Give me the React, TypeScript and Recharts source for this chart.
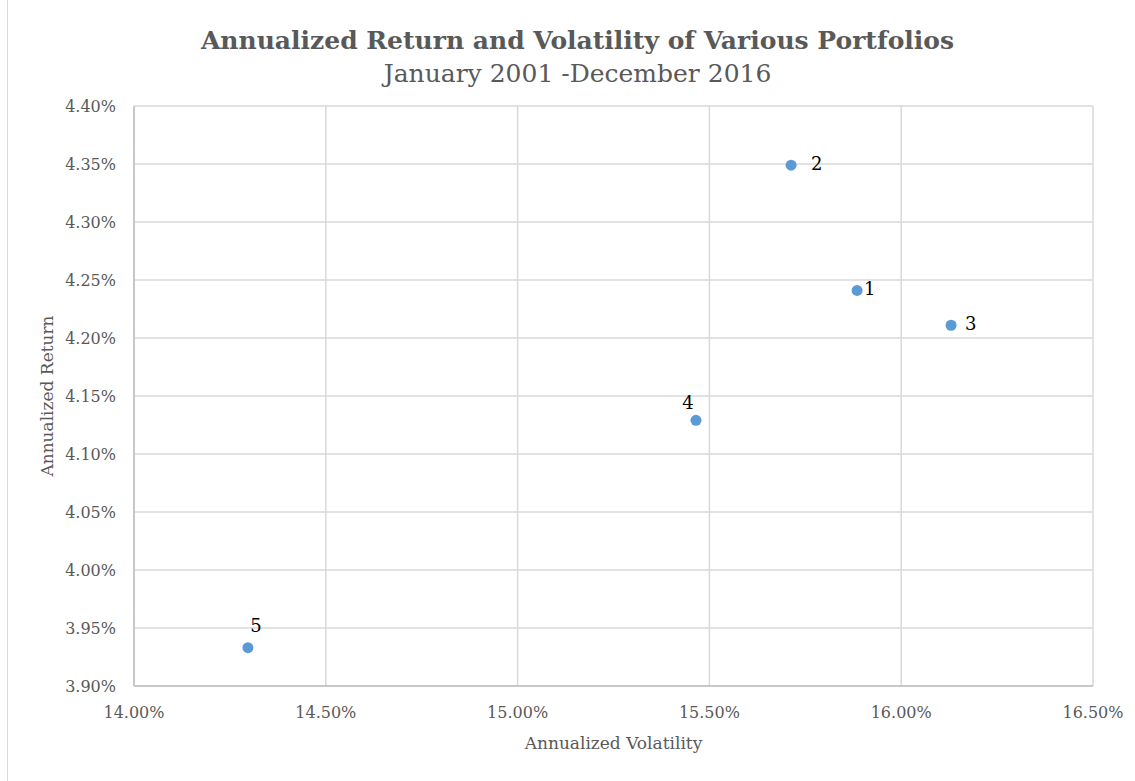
import React from 'react';
import { ScatterChart, Scatter, XAxis, YAxis, CartesianGrid, LabelList, Label } from 'recharts';

// Portfolio stats, Jan 2001 - Dec 2016
const portfolios = ['1', '2', '3', '4', '5'];
const volatility = [15.885, 15.713, 16.13, 15.465, 14.297];
const annReturn = [4.241, 4.349, 4.211, 4.129, 3.933];
const xTicks = [14.0, 14.5, 15.0, 15.5, 16.0, 16.5];
const yTicks = [3.9, 3.95, 4.0, 4.05, 4.1, 4.15, 4.2, 4.25, 4.3, 4.35, 4.4];

// where each label sits relative to its dot
const labelSide = ['right', 'right', 'right', 'topLeft', 'top'];

const FONT = '"DejaVu Serif", serif';
const GREY = '#595959';

const data = portfolios.map((name, i) => ({
  name,
  vol: volatility[i],
  ret: annReturn[i],
}));

const PointLabel = (props: any) => {
  const { x, y, width, height, index } = props;
  const cx = x + width / 2;
  const cy = y + height / 2;
  const side = labelSide[index];
  let lx = cx;
  let ly = cy;
  let anchor: 'start' | 'middle' | 'end' = 'start';
  if (side === 'right') {
    lx = cx + (index === 1 ? 20 : index === 0 ? 7 : 14);
    ly = cy - 2;
  } else if (side === 'topLeft') {
    lx = cx - 8;
    ly = cy - 18;
    anchor = 'middle';
  } else {
    lx = cx + 8;
    ly = cy - 22;
    anchor = 'middle';
  }
  return (
    <text x={lx} y={ly} textAnchor={anchor} dominantBaseline="central" fill="#000" fontSize={18} fontFamily={FONT}>
      {portfolios[index]}
    </text>
  );
};

export default function App() {
  return (
    <div style={{ position: 'absolute', left: 0, top: 0, width: 1135, height: 781, background: '#fff' }}>
      <div style={{ position: 'absolute', left: 7, top: 0, width: 1, height: 781, background: '#d9d9d9' }} />
      <div style={{ position: 'absolute', left: 0, top: 24, width: 1155, textAlign: 'center', fontFamily: FONT, color: GREY }}>
        <div style={{ fontSize: 25, fontWeight: 'bold', lineHeight: '34px' }}>Annualized Return and Volatility of Various Portfolios</div>
        <div style={{ fontSize: 25, lineHeight: '32px', color: '#595959' }}>January 2001 -December 2016</div>
      </div>
      <ScatterChart
        width={1135}
        height={781}
        margin={{ top: 106, right: 42, bottom: 35, left: 44 }}
        style={{ position: 'absolute', left: 0, top: 0 }}
      >
        <CartesianGrid stroke="#d9d9d9" strokeWidth={1.5} />
        <XAxis
          type="number"
          dataKey="vol"
          domain={[14, 16.5]}
          ticks={xTicks}
          tickFormatter={(v: number) => `${v.toFixed(2)}%`}
          tickLine={false}
          axisLine={{ stroke: '#bfbfbf', strokeWidth: 1.5 }}
          tick={{ fill: GREY, fontSize: 16, fontFamily: FONT }}
          tickMargin={15}
          height={60}
        >
          <Label value="Annualized  Volatility" position="insideBottom" offset={-3} fill={GREY} fontSize={17} fontFamily={FONT} />
        </XAxis>
        <YAxis
          type="number"
          dataKey="ret"
          domain={[3.9, 4.4]}
          ticks={yTicks}
          tickFormatter={(v: number) => `${v.toFixed(2)}%`}
          tickLine={false}
          axisLine={{ stroke: '#bfbfbf', strokeWidth: 1.5 }}
          tick={{ fill: GREY, fontSize: 16, fontFamily: FONT }}
          tickMargin={12}
          width={90}
        >
          <Label value="Annualized  Return" angle={-90} position="insideLeft" offset={3} style={{ textAnchor: 'middle' }} fill={GREY} fontSize={17} fontFamily={FONT} />
        </YAxis>
        <Scatter data={data} fill="#5b9bd5" isAnimationActive={false} shape={(p: any) => <circle cx={p.cx} cy={p.cy} r={5.5} fill="#5b9bd5" />}>
          <LabelList dataKey="name" content={<PointLabel />} />
        </Scatter>
      </ScatterChart>
    </div>
  );
}
